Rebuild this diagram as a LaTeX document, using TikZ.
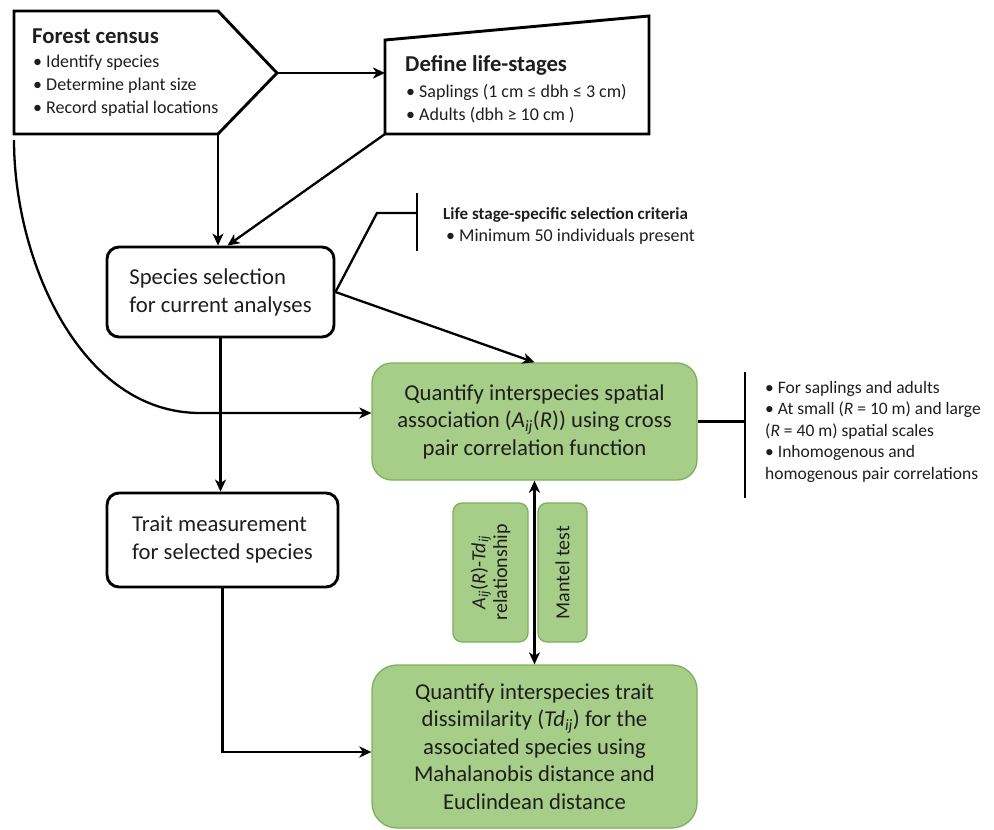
\documentclass[tikz,border=0pt]{standalone}
\usepackage{fontspec}
\setmainfont{Carlito}
\usetikzlibrary{arrows.meta,calc}

\definecolor{leaf}{RGB}{166,206,136}
\definecolor{leafedge}{RGB}{124,175,94}
\definecolor{ink}{RGB}{30,30,30}

\tikzset{
  head/.tip={Stealth[length=12pt,width=11pt,inset=3.5pt]},
  outline/.style={draw=black, line width=2.9pt, line join=miter},
  whitebox/.style={outline, rounded corners=12pt, align=left, inner sep=0pt,
    font=\fontsize{22.7}{28}\selectfont, text=ink},
  greenbox/.style={draw=leafedge, fill=leaf, line width=1.3pt, align=center,
    inner sep=0pt, font=\fontsize{22.7}{27.5}\selectfont, text=ink},
  sidebox/.style={greenbox, rounded corners=9pt, rotate=90,
    font=\fontsize{20}{21.7}\selectfont},
  flow/.style={line width=2.3pt, -head},
  link/.style={line width=2.3pt},
  title/.style={anchor=base west, inner sep=0pt,
    font=\bfseries\fontsize{22.7}{28}\selectfont, text=ink},
  bullets/.style={anchor=north west, inner sep=0pt, align=left,
    font=\fontsize{18}{23}\selectfont, text=ink},
}

\begin{document}
\begin{tikzpicture}[x=1pt,y=-1pt]
  \useasboundingbox (0,0) rectangle (994,830);

  % forest census
  \draw[outline] (14,11) -- (218,11) -- (277,73) -- (218,134) -- (14,134) -- cycle;
  \coordinate (censustip) at (277,73);
  \coordinate (censusfoot) at (218,134);
  \coordinate (censuscorner) at (14,140);
  \node[title] (censustitle) at (32,43) {Forest census};
  \node[bullets] (censuslist) at (33,55)
    {•\ Identify species\\ •\ Determine plant size\\ •\ Record spatial locations};

  % life stages
  \draw[outline] (385,40) -- (649,16) -- (649,134) -- (385,134) -- cycle;
  \coordinate (stagesin) at (385,73);
  \coordinate (stagesfoot) at (385,134);
  \node[title] (stagestitle) at (405,71) {Define life-stages};
  \node[bullets] (stageslist) at (406,84)
    {•\ Saplings (1 cm ≤ dbh ≤ 3 cm)\\ •\ Adults (dbh ≥ 10 cm )};

  % selection and traits
  \node[whitebox, minimum width=227pt, minimum height=90pt] (species) at (220.5,292)
    {Species selection\\for current analyses};
  \node[whitebox, minimum width=231pt, minimum height=94pt] (trait) at (222.5,540)
    {Trait measurement\\for selected species};

  \node[title, font=\bfseries\fontsize{17}{22}\selectfont] (crittitle) at (443,219)
    {Life stage-specific selection criteria};
  \node[bullets, anchor=base west] (critlist) at (446,241)
    {•\ Minimum 50 individuals present};

  % green boxes
  \node[greenbox, rounded corners=20pt, minimum width=325pt, minimum height=117pt]
    (assoc) at (534.5,421.5)
    {Quantify interspecies spatial\\association (\textit{A}\textsubscript{\textit{ij}}(\textit{R})) using cross\\pair correlation function};
  \node[greenbox, rounded corners=25pt, minimum width=325pt, minimum height=163pt]
    (dissim) at (534.5,746.5)
    {Quantify interspecies trait\\dissimilarity (\textit{Td}\textsubscript{\textit{ij}}) for the\\associated species using\\Mahalanobis distance and\\Euclindean distance};
  \node[sidebox, minimum width=139pt, minimum height=75pt] (relation) at (490.5,572.5)
    {\textit{A}\textsubscript{\textit{ij}}(\textit{R})-\textit{Td}\textsubscript{\textit{ij}}\\relationship};
  \node[sidebox, minimum width=139pt, minimum height=49pt] (mantel) at (562.5,572.5)
    {Mantel test};

  \node[bullets, font=\fontsize{17.5}{21.5}\selectfont] (scalenotes) at (765,381)
    {•\ For saplings and adults\\ •\ At small (\textit{R} = 10 m) and large\\(\textit{R} = 40 m) spatial scales\\ •\ Inhomogenous and\\homogenous pair correlations};

  % connectors
  \draw[flow] (censustip) -- (stagesin);
  \draw[flow] (censusfoot) -- (censusfoot |- species.north);
  \draw[flow] (stagesfoot) -- ([xshift=7pt]species.north);
  \draw[flow] (censuscorner) .. controls (14,260) and (80,413) .. (200,413)
    -- ([yshift=8.5pt]assoc.west);
  \draw[flow] (species.east) -- (assoc.north);
  \coordinate (critbar) at (417,213);
  \draw[link] (species.east) -- (377,213) -- (critbar);
  \draw[link] ([yshift=20pt]critbar) -- ([yshift=-38pt]critbar);
  \draw[flow] (species.south) -- (species.south |- trait.north);
  \draw[flow] (trait.south) |- ([yshift=-5.5pt]dissim.west);
  \draw[line width=2.3pt, head-head] (assoc.south) -- (dissim.north);
  \coordinate (scalebar) at (745,421.5);
  \draw[link] (assoc.east) -- (scalebar);
  \draw[link] ([yshift=49.5pt]scalebar) -- ([yshift=-76.5pt]scalebar);
\end{tikzpicture}
\end{document}
